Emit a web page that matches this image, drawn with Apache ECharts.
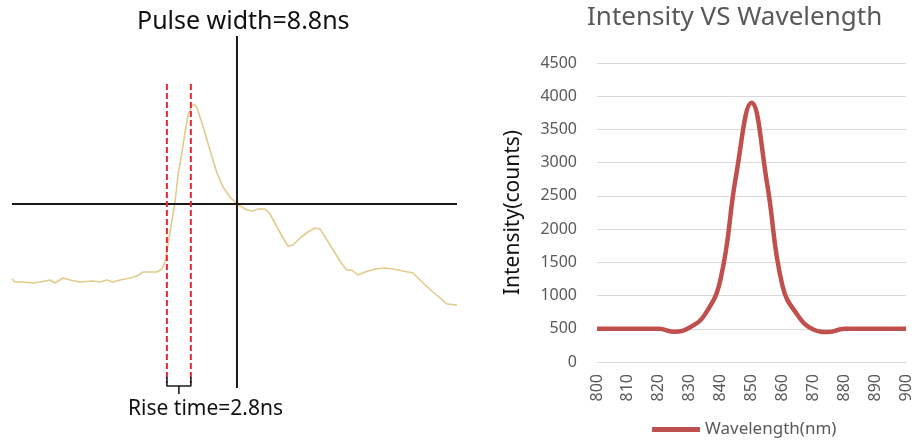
<!DOCTYPE html>
<html>
<head>
<meta charset="utf-8">
<script src="https://cdn.jsdelivr.net/npm/echarts@6/dist/echarts.min.js"></script>
<style>
html,body{margin:0;padding:0;background:#fff;}
#main{width:914px;height:441px;}
</style>
</head>
<body>
<div id="main"></div>
<script>
// ---- Left panel: oscilloscope pulse (time in ns, amplitude in a.u.) ----
var pulseTime = [0,0.35,1.29,2.45,3.27,4.44,5.02,5.96,6.78,7.95,9.46,10.28,11.10,11.80,12.62,13.79,14.61,15.31,16.13,16.94,17.53,17.88,18.23,18.70,19.05,19.40,19.87,20.22,20.57,21.03,21.27,21.62,22.20,22.79,23.37,23.95,24.66,25.47,26.29,27.46,28.16,28.75,29.56,30.15,30.97,31.67,32.25,32.84,33.65,34.59,35.41,35.99,36.81,37.74,38.56,39.14,39.72,40.43,41.25,42.42,43.59,44.52,45.69,46.86,48.03,49.20,50.83,52.00];
var pulseAmp = [-0.75,-0.78,-0.78,-0.79,-0.78,-0.76,-0.79,-0.74,-0.76,-0.78,-0.77,-0.78,-0.76,-0.78,-0.76,-0.74,-0.72,-0.68,-0.68,-0.68,-0.65,-0.58,-0.40,-0.16,0.02,0.29,0.52,0.72,0.89,0.98,1.00,0.96,0.81,0.64,0.47,0.31,0.17,0.07,0.00,-0.06,-0.07,-0.05,-0.05,-0.10,-0.23,-0.34,-0.42,-0.41,-0.34,-0.28,-0.24,-0.25,-0.36,-0.49,-0.60,-0.66,-0.66,-0.71,-0.68,-0.65,-0.64,-0.65,-0.67,-0.69,-0.79,-0.88,-1.00,-1.01];
var riseStart = 18.1, riseEnd = 20.9;      // rise time 2.8 ns
var crossTime = 26.29, crossAmp = 0;        // crosshair
var dashTop = 1.20, dashBottom = -1.79;
var bracketTop = -1.73, bracketBase = -1.82, bracketTip = -1.90;
var leftTimeRange = [0, 52], leftAmpRange = [-2.0, 1.68];

// ---- Right panel: spectrum ----
var wavelengths = [800,805,810,815,820,825,830,835,840,845,850,855,860,865,870,875,880,885,890,895,900];
var intensity   = [500,500,500,500,500,455,520,720,1250,2800,3900,2700,1150,700,490,450,500,500,500,500,500];
var specTitle = 'Intensity VS Wavelength';
var specSeriesName = 'Wavelength(nm)';
var specYName = 'Intensity(counts)';

function pairs(xs, ys){ return xs.map(function(x,i){ return [x, ys[i]]; }); }

var chart = echarts.init(document.getElementById('main'));
var blackLine = {color:'#1a1a1a', width:2};
var redDash = {color:'#e8283a', width:2, type:[6,3]};
function seg(data, style, z){
  return {type:'line', xAxisIndex:0, yAxisIndex:0, data:data, symbol:'none', silent:true,
          lineStyle:style, z:z||3, animation:false};
}
var FONT = 'Noto Sans';
chart.setOption({
  animation:false,
  textStyle:{fontFamily:FONT},
  title:[
    {text:'Pulse width=8.8ns', left:137, top:9, padding:0,
     textStyle:{fontFamily:FONT, fontSize:25, fontWeight:'normal', color:'#111'}},
    {text:'Rise time=2.8ns', left:128, top:399, padding:0,
     textStyle:{fontFamily:FONT, fontSize:21, fontWeight:'normal', color:'#111'}},
    {text:specTitle, left:587, top:5, padding:0,
     textStyle:{fontFamily:FONT, fontSize:26, fontWeight:'normal', color:'#595959'}}
  ],
  legend:{data:[specSeriesName], left:647, top:416, icon:'rect', itemWidth:48, itemHeight:5,
          itemGap:3, textStyle:{fontFamily:FONT, fontSize:17, color:'#595959'}},
  grid:[
    {left:12, top:36, width:445, height:368},
    {left:597, top:63, width:309, height:299}
  ],
  xAxis:[
    {gridIndex:0, type:'value', min:leftTimeRange[0], max:leftTimeRange[1], show:false},
    {gridIndex:1, type:'value', min:800, max:900, interval:10,
     axisLine:{show:true, lineStyle:{color:'#d9d9d9', width:1}}, axisTick:{show:false},
     splitLine:{show:false},
     axisLabel:{rotate:90, margin:12, fontSize:16, color:'#595959', fontFamily:FONT}}
  ],
  yAxis:[
    {gridIndex:0, type:'value', min:leftAmpRange[0], max:leftAmpRange[1], show:false},
    {gridIndex:1, type:'value', min:0, max:4500, interval:500,
     axisLine:{show:false}, axisTick:{show:false},
     splitLine:{lineStyle:{color:'#d9d9d9', width:1}},
     axisLabel:{fontSize:16, color:'#595959', margin:20, fontFamily:FONT,
                formatter:function(v){ return String(v); }},
     name:specYName, nameLocation:'middle', nameGap:73, nameRotate:90,
     nameTextStyle:{fontSize:21, color:'#111', fontFamily:FONT}}
  ],
  series:[
    {type:'line', name:'pulse', xAxisIndex:0, yAxisIndex:0, data:pairs(pulseTime, pulseAmp),
     symbol:'none', smooth:false, lineStyle:{color:'#e0cc8c', width:1.6}, z:2, silent:true},
    seg([[leftTimeRange[0], crossAmp],[leftTimeRange[1], crossAmp]], blackLine, 4),
    seg([[crossTime, leftAmpRange[1]],[crossTime, -1.84]], blackLine, 4),
    seg([[riseStart, dashTop],[riseStart, dashBottom]], redDash, 5),
    seg([[riseEnd, dashTop],[riseEnd, dashBottom]], redDash, 5),
    seg([[riseStart, bracketTop],[riseStart, bracketBase],[riseEnd, bracketBase],[riseEnd, bracketTop]], {color:'#1a1a1a', width:1.6}, 6),
    seg([[(riseStart+riseEnd)/2, bracketBase],[(riseStart+riseEnd)/2, bracketTip]], {color:'#1a1a1a', width:1.6}, 6),
    {type:'line', name:specSeriesName, xAxisIndex:1, yAxisIndex:1, data:pairs(wavelengths, intensity),
     symbol:'none', smooth:0.45, lineStyle:{color:'#c0504d', width:4.5}, itemStyle:{color:'#c0504d'}, z:3}
  ]
});
</script>
</body>
</html>
